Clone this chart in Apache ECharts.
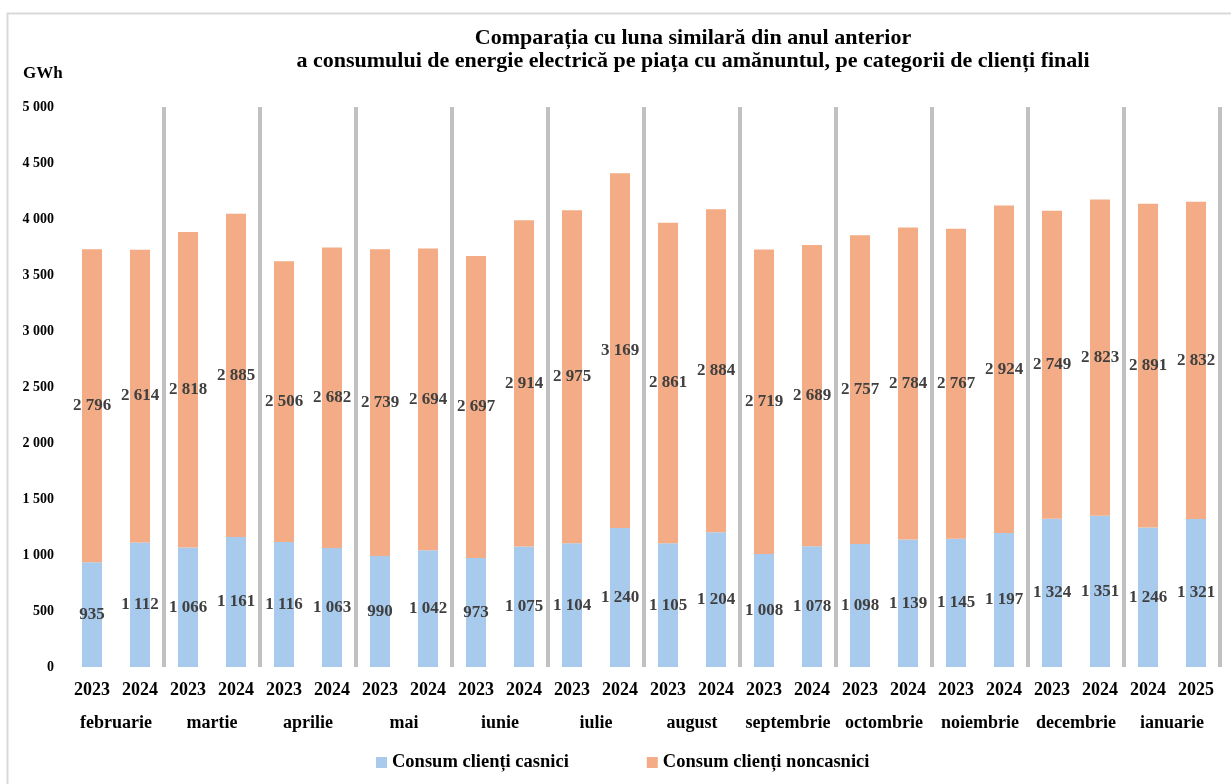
<!DOCTYPE html>
<html>
<head>
<meta charset="utf-8">
<script src="https://cdn.jsdelivr.net/npm/echarts@6/dist/echarts.min.js"></script>
<style>
  html, body { margin: 0; padding: 0; background: #fff; }
  #chart { width: 1231px; height: 784px; }
</style>
</head>
<body>
<div id="chart"></div>
<script>
// date (GWh)
const years = ['2023', '2024', '2023', '2024', '2023', '2024', '2023', '2024', '2023', '2024', '2023', '2024',
  '2023', '2024', '2023', '2024', '2023', '2024', '2023', '2024', '2023', '2024', '2024', '2025']
const months = ['februarie', 'martie', 'aprilie', 'mai', 'iunie', 'iulie', 'august',
  'septembrie', 'octombrie', 'noiembrie', 'decembrie', 'ianuarie']
const casnici = [935, 1112, 1066, 1161, 1116, 1063, 990, 1042, 973, 1075, 1104, 1240,
  1105, 1204, 1008, 1078, 1098, 1139, 1145, 1197, 1324, 1351, 1246, 1321]
const noncasnici = [2796, 2614, 2818, 2885, 2506, 2682, 2739, 2694, 2697, 2914, 2975, 3169,
  2861, 2884, 2719, 2689, 2757, 2784, 2767, 2924, 2749, 2823, 2891, 2832]

const font = "'Liberation Serif', 'Times New Roman', serif"
const fmt = v => String(v).replace(/\B(?=(\d{3})+(?!\d))/g, ' ')

const valueLabel = {
  show: true,
  position: 'inside',
  color: '#404040',
  fontFamily: font,
  fontWeight: 'bold',
  fontSize: 17,
  formatter: p => fmt(p.value)
}

const chart = echarts.init(document.getElementById('chart'), null, { renderer: 'canvas' })
chart.setOption({
  animation: false,
  textStyle: { fontFamily: font },
  graphic: [{
    type: 'rect',
    shape: { x: 7.5, y: 13.5, width: 1240, height: 800 },
    style: { fill: 'none', stroke: '#d9d9d9', lineWidth: 2 },
    silent: true
  }, {
    type: 'text',
    left: 23,
    top: 65,
    style: { text: 'GWh', font: 'bold 17px ' + font, fill: '#000' }
  }],
  title: {
    text: 'Comparația cu luna similară din anul anterior\na consumului de energie electrică pe piața cu amănuntul, pe categorii de clienți finali',
    left: 688,
    top: 22,
    textAlign: 'center',
    textStyle: {
      fontFamily: font,
      fontWeight: 'bold',
      fontSize: 22,
      lineHeight: 23,
      color: '#000'
    }
  },
  legend: {
    bottom: 7,
    left: 371,
    itemWidth: 11,
    itemHeight: 11,
    itemGap: 78,
    icon: 'rect',
    textStyle: { fontFamily: font, fontWeight: 'bold', fontSize: 18.5, color: '#000' },
    data: ['Consum clienți casnici', 'Consum clienți noncasnici']
  },
  grid: { left: 68, right: 11, top: 107, bottom: 117 },
  xAxis: [{
    type: 'category',
    data: years,
    axisLine: { show: false },
    axisTick: { show: false },
    axisLabel: { margin: 14, color: '#000', fontFamily: font, fontWeight: 'bold', fontSize: 18 }
  }, {
    type: 'category',
    position: 'bottom',
    data: months,
    axisLine: { show: false },
    axisTick: { show: false },
    axisLabel: { interval: 0, margin: 47, color: '#000', fontFamily: font, fontWeight: 'bold', fontSize: 18 }
  }, {
    // separatoarele gri dintre luni
    type: 'value',
    min: 0,
    max: 12,
    interval: 1,
    position: 'top',
    axisLine: { show: false },
    axisTick: { show: false },
    axisLabel: { show: false },
    splitLine: { show: true, showMinLine: false, lineStyle: { color: '#c0c0c0', width: 4 } }
  }],
  yAxis: {
    type: 'value',
    min: 0,
    max: 5000,
    interval: 500,
    axisLine: { show: false },
    axisTick: { show: false },
    splitLine: { show: false },
    axisLabel: {
      margin: 14,
      color: '#000',
      fontFamily: font,
      fontWeight: 'bold',
      fontSize: 14,
      formatter: fmt
    }
  },
  series: [{
    name: 'Consum clienți casnici',
    type: 'bar',
    stack: 'total',
    barWidth: 20,
    itemStyle: { color: '#a8caec' },
    label: valueLabel,
    data: casnici
  }, {
    name: 'Consum clienți noncasnici',
    type: 'bar',
    stack: 'total',
    barWidth: 20,
    itemStyle: { color: '#f3ac85' },
    label: valueLabel,
    data: noncasnici
  }]
})
</script>
</body>
</html>
